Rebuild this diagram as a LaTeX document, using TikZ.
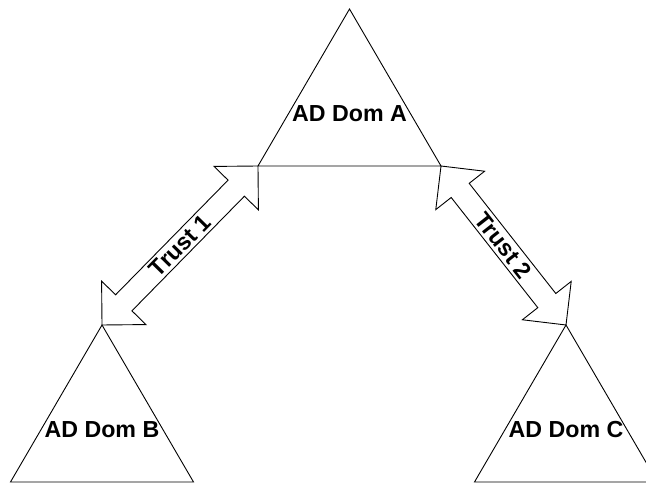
\documentclass[tikz,border=0pt]{standalone}
\usepackage{fontspec}
\setmainfont{Liberation Sans}
\usetikzlibrary{shapes.arrows,calc}
\begin{document}
\begin{tikzpicture}[x=1pt,y=1pt,line width=.9pt,
dom/.style={font=\fontsize{23.2}{27}\selectfont\bfseries,inner sep=0pt},
trust/.style={double arrow,draw,fill=white,inner xsep=0pt,inner ysep=11pt,
double arrow head extend=19.6pt,double arrow tip angle=90,minimum width=61.2pt}]
\clip(0,0)rectangle(646,485);
\newcommand{\Dom}[2]{
\draw(0,0)coordinate(#1-top)--(91.5,-157)coordinate(#1-right)--(-91.5,-157)coordinate(#1-left)--cycle;
\node[dom](#1)at(0,-104.5){#2};}
\newcommand{\Trust}[3]{
\path let \p1=($(#2)-(#1)$),\n1={veclen(\x1,\y1)},\n2={atan2(\y1,\x1)} in
node[trust,minimum height=\n1,rotate=\n2](#3-arrow)at($(#1)!.5!(#2)$){}
node[dom,rotate=\n2](#3)at($(#1)!.5!(#2)$){#3};}
\begin{scope}[shift={(349.5,476)}]
\Dom{A}{AD Dom A}
\end{scope}
\begin{scope}[shift={(102,160)}]
\Dom{B}{AD Dom B}
\end{scope}
\begin{scope}[shift={(566,160)}]
\Dom{C}{AD Dom C}
\end{scope}
\Trust{B-top}{A-left}{Trust 1}
\Trust{A-right}{C-top}{Trust 2}
\end{tikzpicture}
\end{document}
